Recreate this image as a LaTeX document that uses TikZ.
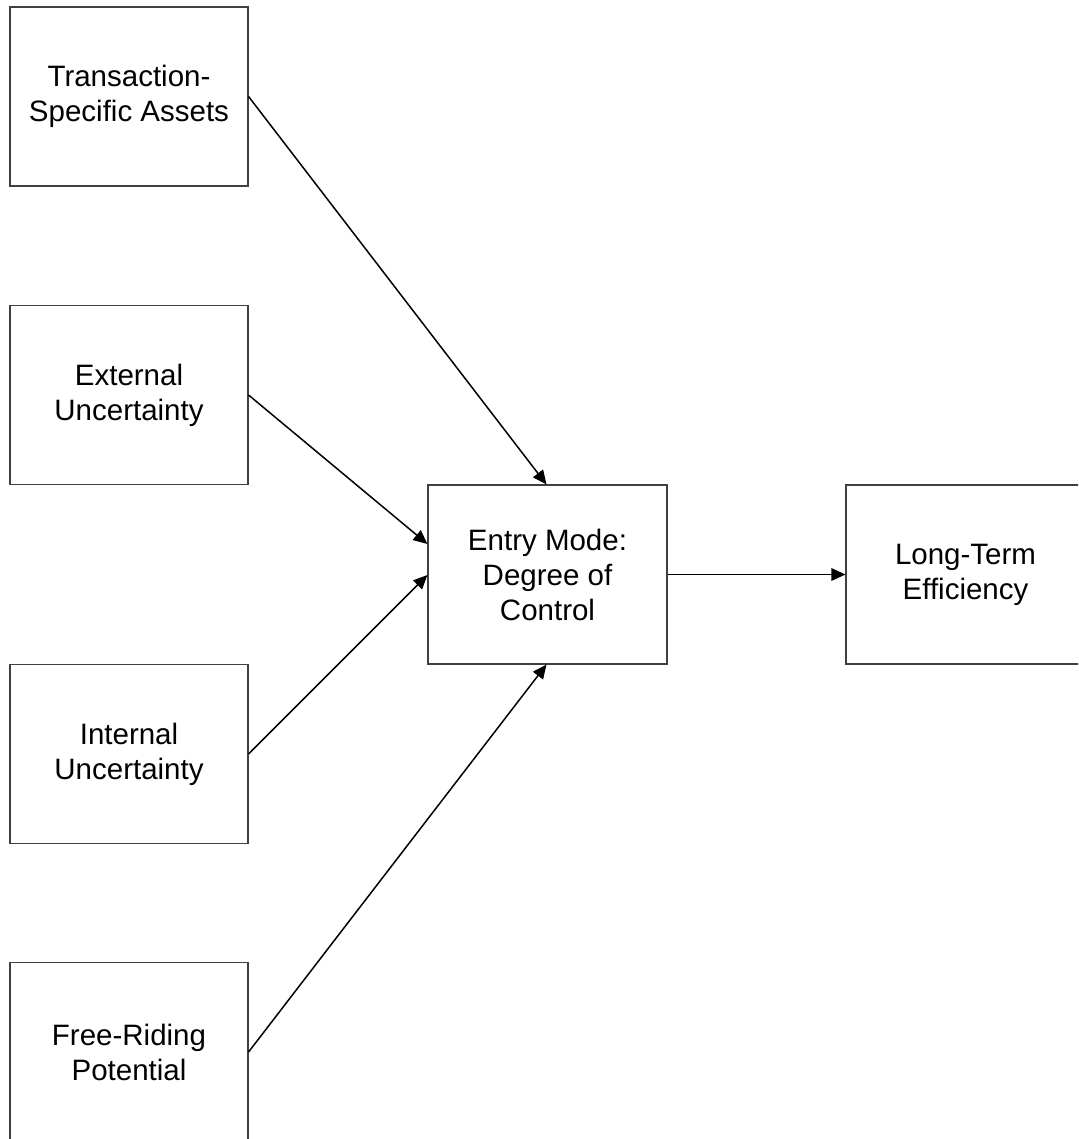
\documentclass[tikz,border=0pt]{standalone}
\usepackage{fontspec}
\setmainfont{Liberation Sans}
\usetikzlibrary{arrows.meta}
\begin{document}
\begin{tikzpicture}[x=1pt,y=-1pt,
  box/.style={draw=black!75, line width=1.1pt, fill=white, minimum width=238pt, minimum height=179pt,
    inner sep=0pt, align=center, font=\fontsize{29.5}{35}\selectfont},
  conn/.style={line width=1.5pt, -{Triangle[length=14pt,width=12.5pt]}}]
\useasboundingbox (0,0) rectangle (1078,1139);
\clip (0,0) rectangle (1078,1139);
\fill[white] (0,0) rectangle (1078,1139);
\node[box] (tsa) at (129,96.5) {Transaction-\\Specific Assets};
\node[box] (eu) at (129,395) {External\\Uncertainty};
\node[box] (iu) at (129,754) {Internal\\Uncertainty};
\node[box] (frp) at (129,1052) {Free-Riding\\Potential};
\node[box, minimum width=239pt] (em) at (547.5,574.5) {Entry Mode:\\Degree of\\Control};
\node[box, minimum width=239pt] (lt) at (965.5,574.5) {Long-Term\\Efficiency};
\draw[conn] (tsa.east) -- ([xshift=-1pt]em.north);
\draw[conn] (eu.east) -- ([yshift=30.5pt]em.west);
\draw[conn] (iu.east) -- ([yshift=-0.5pt]em.west);
\draw[conn] (frp.east) -- ([xshift=-1pt]em.south);
\draw[conn] (em.east) -- (lt.west);
\end{tikzpicture}
\end{document}
